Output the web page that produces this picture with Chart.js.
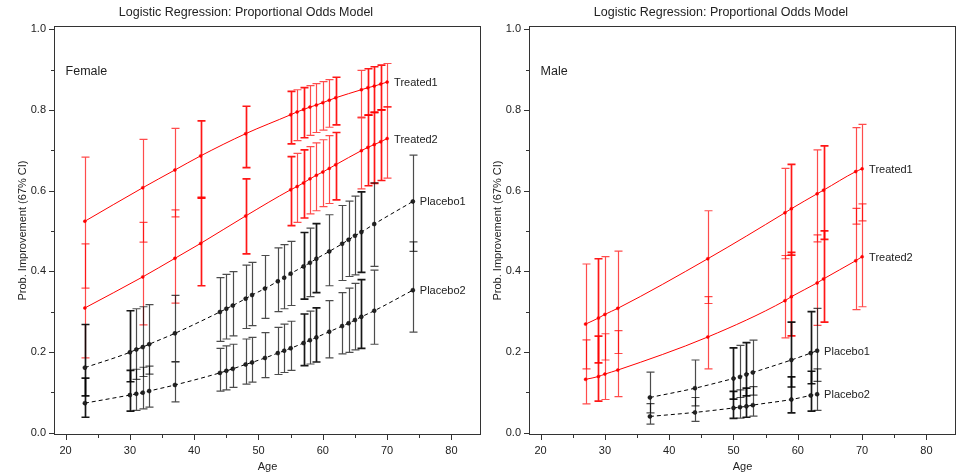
<!DOCTYPE html>
<html>
<head>
<meta charset="utf-8">
<script src="https://cdn.jsdelivr.net/npm/chart.js@4.4.0/dist/chart.umd.min.js"></script>
<style>
  html, body { margin: 0; padding: 0; background: #fff; }
  #wrap { position: relative; width: 963px; height: 475px; overflow: hidden; }
  .panel { position: absolute; top: 0; height: 475px; }
  #femBox { left: 0; width: 490px; }
  #maleBox { left: 480px; width: 483px; }
</style>
</head>
<body>
<div id="wrap">
  <div class="panel" id="femBox"><canvas id="femChart" width="490" height="475"></canvas></div>
  <div class="panel" id="maleBox"><canvas id="maleChart" width="483" height="475"></canvas></div>
</div>
<script>
// ----------------------
// TICKS
// ----------------------
const ageTicks = [20, 30, 40, 50, 60, 70, 80];
const ageMinorTicks = [25, 35, 45, 55, 65, 75];
const probTicks = [0.0, 0.2, 0.4, 0.6, 0.8, 1.0];
const probMinorTicks = [0.1, 0.3, 0.5, 0.7, 0.9];

// ----------------------
// FEMALE DATA
// ----------------------
const femTreatAge = [23, 32, 37, 41, 48, 55, 56, 57, 58, 59, 60, 61, 62, 66, 67, 68, 69, 70];
const femTreatN   = [1, 1, 1, 2, 2, 2, 1, 2, 1, 1, 1, 1, 2, 1, 2, 2, 2, 1];
const femTreated1   = [0.524, 0.607, 0.651, 0.686, 0.741, 0.788, 0.795, 0.801, 0.807, 0.812, 0.818, 0.824, 0.830, 0.850, 0.855, 0.859, 0.864, 0.869];
const femTreated1Lo = [0.358, 0.472, 0.535, 0.581, 0.657, 0.716, 0.724, 0.731, 0.737, 0.744, 0.750, 0.757, 0.763, 0.782, 0.787, 0.794, 0.800, 0.807];
const femTreated1Hi = [0.683, 0.727, 0.754, 0.773, 0.809, 0.846, 0.850, 0.855, 0.860, 0.865, 0.870, 0.875, 0.881, 0.898, 0.902, 0.907, 0.911, 0.915];
const femTreated2   = [0.309, 0.386, 0.432, 0.469, 0.537, 0.602, 0.610, 0.619, 0.629, 0.638, 0.646, 0.655, 0.664, 0.699, 0.707, 0.714, 0.721, 0.729];
const femTreated2Lo = [0.185, 0.267, 0.321, 0.364, 0.443, 0.513, 0.521, 0.532, 0.542, 0.550, 0.560, 0.568, 0.577, 0.604, 0.612, 0.618, 0.625, 0.631];
const femTreated2Hi = [0.468, 0.521, 0.552, 0.583, 0.629, 0.684, 0.692, 0.701, 0.709, 0.718, 0.726, 0.736, 0.744, 0.780, 0.787, 0.794, 0.800, 0.808];

const femPlacAge = [23, 30, 31, 32, 33, 37, 44, 45, 46, 48, 49, 51, 53, 54, 55, 57, 58, 59, 61, 63, 64, 65, 66, 68, 74];
const femPlacN   = [2, 2, 1, 1, 1, 1, 1, 1, 1, 1, 1, 1, 1, 1, 1, 2, 1, 2, 1, 1, 1, 1, 2, 1, 1];
const femPlacebo1   = [0.161, 0.199, 0.206, 0.212, 0.219, 0.246, 0.299, 0.307, 0.315, 0.332, 0.341, 0.357, 0.375, 0.384, 0.394, 0.412, 0.421, 0.431, 0.449, 0.468, 0.478, 0.488, 0.497, 0.517, 0.573];
const femPlacebo1Lo = [0.091, 0.126, 0.132, 0.139, 0.145, 0.176, 0.226, 0.232, 0.240, 0.258, 0.265, 0.283, 0.300, 0.307, 0.315, 0.331, 0.337, 0.347, 0.364, 0.377, 0.387, 0.391, 0.397, 0.412, 0.449];
const femPlacebo1Hi = [0.268, 0.302, 0.307, 0.312, 0.317, 0.340, 0.384, 0.392, 0.399, 0.415, 0.422, 0.439, 0.458, 0.466, 0.474, 0.496, 0.507, 0.518, 0.540, 0.563, 0.574, 0.586, 0.597, 0.619, 0.688];
const femPlacebo2   = [0.073, 0.093, 0.096, 0.099, 0.103, 0.118, 0.148, 0.153, 0.158, 0.169, 0.174, 0.185, 0.197, 0.203, 0.209, 0.222, 0.229, 0.236, 0.250, 0.264, 0.271, 0.279, 0.287, 0.302, 0.353];
const femPlacebo2Lo = [0.038, 0.053, 0.055, 0.059, 0.063, 0.076, 0.103, 0.106, 0.112, 0.120, 0.125, 0.136, 0.144, 0.149, 0.154, 0.166, 0.170, 0.175, 0.185, 0.195, 0.199, 0.205, 0.209, 0.219, 0.249];
const femPlacebo2Hi = [0.135, 0.154, 0.157, 0.162, 0.165, 0.175, 0.209, 0.215, 0.219, 0.232, 0.236, 0.248, 0.261, 0.269, 0.276, 0.294, 0.301, 0.309, 0.327, 0.347, 0.358, 0.370, 0.379, 0.403, 0.473];

// ----------------------
// MALE DATA
// ----------------------
const maleTreatAge = [27, 29, 30, 32, 46, 58, 59, 63, 64, 69, 70];
const maleTreatN   = [1, 2, 1, 1, 1, 1, 2, 1, 2, 1, 1];
const maleTreated1   = [0.269, 0.284, 0.293, 0.308, 0.431, 0.545, 0.555, 0.592, 0.601, 0.647, 0.654];
const maleTreated1Lo = [0.158, 0.173, 0.180, 0.196, 0.320, 0.431, 0.440, 0.473, 0.479, 0.517, 0.525];
const maleTreated1Hi = [0.418, 0.431, 0.436, 0.450, 0.550, 0.655, 0.665, 0.701, 0.711, 0.756, 0.764];
const maleTreated2   = [0.132, 0.139, 0.145, 0.155, 0.237, 0.327, 0.337, 0.371, 0.381, 0.426, 0.436];
const maleTreated2Lo = [0.071, 0.078, 0.082, 0.089, 0.158, 0.235, 0.240, 0.266, 0.274, 0.305, 0.312];
const maleTreated2Hi = [0.230, 0.239, 0.245, 0.253, 0.337, 0.439, 0.447, 0.490, 0.500, 0.556, 0.567];

const malePlacAge = [37, 44, 50, 51, 52, 53, 59, 62, 63];
const malePlacN   = [1, 1, 2, 1, 2, 1, 2, 2, 1];
const malePlacebo1   = [0.087, 0.110, 0.134, 0.138, 0.144, 0.149, 0.180, 0.197, 0.203];
const malePlacebo1Lo = [0.049, 0.066, 0.083, 0.087, 0.091, 0.093, 0.113, 0.121, 0.127];
const malePlacebo1Hi = [0.150, 0.180, 0.210, 0.216, 0.223, 0.229, 0.274, 0.300, 0.308];
const malePlacebo2   = [0.040, 0.050, 0.061, 0.063, 0.065, 0.068, 0.082, 0.092, 0.095];
const malePlacebo2Lo = [0.021, 0.028, 0.035, 0.036, 0.038, 0.041, 0.049, 0.053, 0.055];
const malePlacebo2Hi = [0.072, 0.087, 0.102, 0.106, 0.110, 0.114, 0.138, 0.152, 0.158];

// ----------------------
// STYLE
// ----------------------
const FONT = "'Liberation Sans', Arial, Helvetica, sans-serif";
const INK = "#222";
const TITLE = "Logistic Regression: Proportional Odds Model";

function series(tag, ages, vals, lo, hi, nObs, treated) {
    return {
        tag: tag,
        data: ages.map((a, i) => ({ x: a, y: vals[i] })),
        lo: lo,
        hi: hi,
        nObs: nObs,
        barRgb: treated ? "255,0,0" : "0,0,0",
        showLine: true,
        cubicInterpolationMode: "monotone",
        borderColor: treated ? "#ff0000" : "#000",
        borderWidth: 1,
        borderDash: treated ? [] : [4, 3],
        pointRadius: treated ? 1.5 : 2,
        pointBackgroundColor: treated ? "#ff0000" : "#222",
        pointBorderColor: treated ? "#ff0000" : "#000",
        pointBorderWidth: 0.5
    };
}

// error bars drawn under the lines
const errorBarPlugin = {
    id: "errorBars",
    beforeDatasetsDraw(chart) {
        const { ctx, scales: { x, y } } = chart;
        ctx.save();
        chart.data.datasets.forEach(ds => {
            ds.data.forEach((pt, i) => {
                const n = ds.nObs[i];
                ctx.strokeStyle = `rgba(${ds.barRgb},${1 - Math.pow(0.3, n)})`;
                ctx.lineWidth = n > 1 ? 1.7 : 1.2;
                const px = Math.round(x.getPixelForValue(pt.x)) + 0.5;
                const yl = y.getPixelForValue(ds.lo[i]);
                const yh = y.getPixelForValue(ds.hi[i]);
                ctx.beginPath();
                ctx.moveTo(px, yl); ctx.lineTo(px, yh);
                ctx.moveTo(px - 4, yl); ctx.lineTo(px + 4, yl);
                ctx.moveTo(px - 4, yh); ctx.lineTo(px + 4, yh);
                ctx.stroke();
            });
        });
        ctx.restore();
    },
    afterDatasetsDraw(chart) {
        // series names next to the last point
        const { ctx, scales: { x, y } } = chart;
        ctx.save();
        ctx.font = `11px ${FONT}`;
        ctx.fillStyle = INK;
        ctx.textBaseline = "middle";
        chart.data.datasets.forEach(ds => {
            const last = ds.data[ds.data.length - 1];
            ctx.fillText(ds.tag, x.getPixelForValue(last.x) + 7, y.getPixelForValue(last.y) + 1);
        });
        ctx.restore();
    }
};

// frame, tick marks, title, panel name
const framePlugin = {
    id: "frame",
    afterDraw(chart, args, opts) {
        const { ctx, chartArea: a, scales: { x, y } } = chart;
        ctx.save();
        ctx.strokeStyle = "#333";
        ctx.lineWidth = 1;
        ctx.strokeRect(a.left + 0.5, a.top + 0.5, a.right - a.left - 1, a.bottom - a.top - 1);

        ctx.beginPath();
        probTicks.forEach(v => {
            const py = Math.round(y.getPixelForValue(v)) + 0.5;
            ctx.moveTo(a.left, py); ctx.lineTo(a.left - 5, py);
        });
        probMinorTicks.forEach(v => {
            const py = Math.round(y.getPixelForValue(v)) + 0.5;
            ctx.moveTo(a.left, py); ctx.lineTo(a.left - 3, py);
        });
        ageTicks.forEach(v => {
            const px = Math.round(x.getPixelForValue(v)) + 0.5;
            ctx.moveTo(px, a.bottom); ctx.lineTo(px, a.bottom + 5);
        });
        ageMinorTicks.forEach(v => {
            const px = Math.round(x.getPixelForValue(v)) + 0.5;
            ctx.moveTo(px, a.bottom); ctx.lineTo(px, a.bottom + 3);
        });
        ctx.stroke();

        ctx.fillStyle = INK;
        ctx.textBaseline = "middle";
        ctx.font = `12.5px ${FONT}`;
        ctx.textAlign = "center";
        ctx.fillText(TITLE, opts.titleX, 13);
        ctx.textAlign = "left";
        ctx.fillText(opts.panel, x.getPixelForValue(20), y.getPixelForValue(0.895));
        ctx.restore();
    }
};

function makePanel(canvasId, panel, yWidth, padRight, yTitlePad, titleX, datasets) {
    return new Chart(document.getElementById(canvasId), {
        type: "scatter",
        data: { datasets: datasets },
        plugins: [errorBarPlugin, framePlugin],
        options: {
            responsive: false,
            animation: false,
            events: [],
            layout: { padding: { top: 26, right: padRight, left: 0, bottom: 0 } },
            plugins: {
                legend: { display: false },
                tooltip: { enabled: false },
                frame: { panel: panel, titleX: titleX }
            },
            scales: {
                x: {
                    type: "linear",
                    min: 18.2,
                    max: 84.6,
                    afterFit: s => { s.height = 40; },
                    afterBuildTicks: s => { s.ticks = ageTicks.map(v => ({ value: v })); },
                    grid: { display: false, drawTicks: false },
                    border: { display: false },
                    ticks: {
                        padding: 9, color: INK, maxRotation: 0, autoSkip: false,
                        font: { family: FONT, size: 11 },
                        callback: v => String(v)
                    },
                    title: {
                        display: true, text: "Age", color: INK,
                        font: { family: FONT, size: 11 },
                        padding: { top: 0, bottom: 1 }
                    }
                },
                y: {
                    type: "linear",
                    min: -0.006,
                    max: 1.008,
                    afterFit: s => { s.width = yWidth; },
                    afterBuildTicks: s => { s.ticks = probTicks.map(v => ({ value: v })); },
                    grid: { display: false, drawTicks: false },
                    border: { display: false },
                    ticks: {
                        padding: 8, color: INK, autoSkip: false,
                        font: { family: FONT, size: 11 },
                        callback: v => v.toFixed(1)
                    },
                    title: {
                        display: true, text: "Prob. Improvement (67% CI)", color: INK,
                        font: { family: FONT, size: 11 },
                        padding: { top: yTitlePad, bottom: 0 }
                    }
                }
            }
        }
    });
}

makePanel("femChart", "Female", 54, 9, 16, 246, [
    series("Treated1", femTreatAge, femTreated1, femTreated1Lo, femTreated1Hi, femTreatN, true),
    series("Treated2", femTreatAge, femTreated2, femTreated2Lo, femTreated2Hi, femTreatN, true),
    series("Placebo1", femPlacAge, femPlacebo1, femPlacebo1Lo, femPlacebo1Hi, femPlacN, false),
    series("Placebo2", femPlacAge, femPlacebo2, femPlacebo2Lo, femPlacebo2Hi, femPlacN, false)
]);

makePanel("maleChart", "Male", 49, 7, 11, 241, [
    series("Treated1", maleTreatAge, maleTreated1, maleTreated1Lo, maleTreated1Hi, maleTreatN, true),
    series("Treated2", maleTreatAge, maleTreated2, maleTreated2Lo, maleTreated2Hi, maleTreatN, true),
    series("Placebo1", malePlacAge, malePlacebo1, malePlacebo1Lo, malePlacebo1Hi, malePlacN, false),
    series("Placebo2", malePlacAge, malePlacebo2, malePlacebo2Lo, malePlacebo2Hi, malePlacN, false)
]);
</script>
</body>
</html>
